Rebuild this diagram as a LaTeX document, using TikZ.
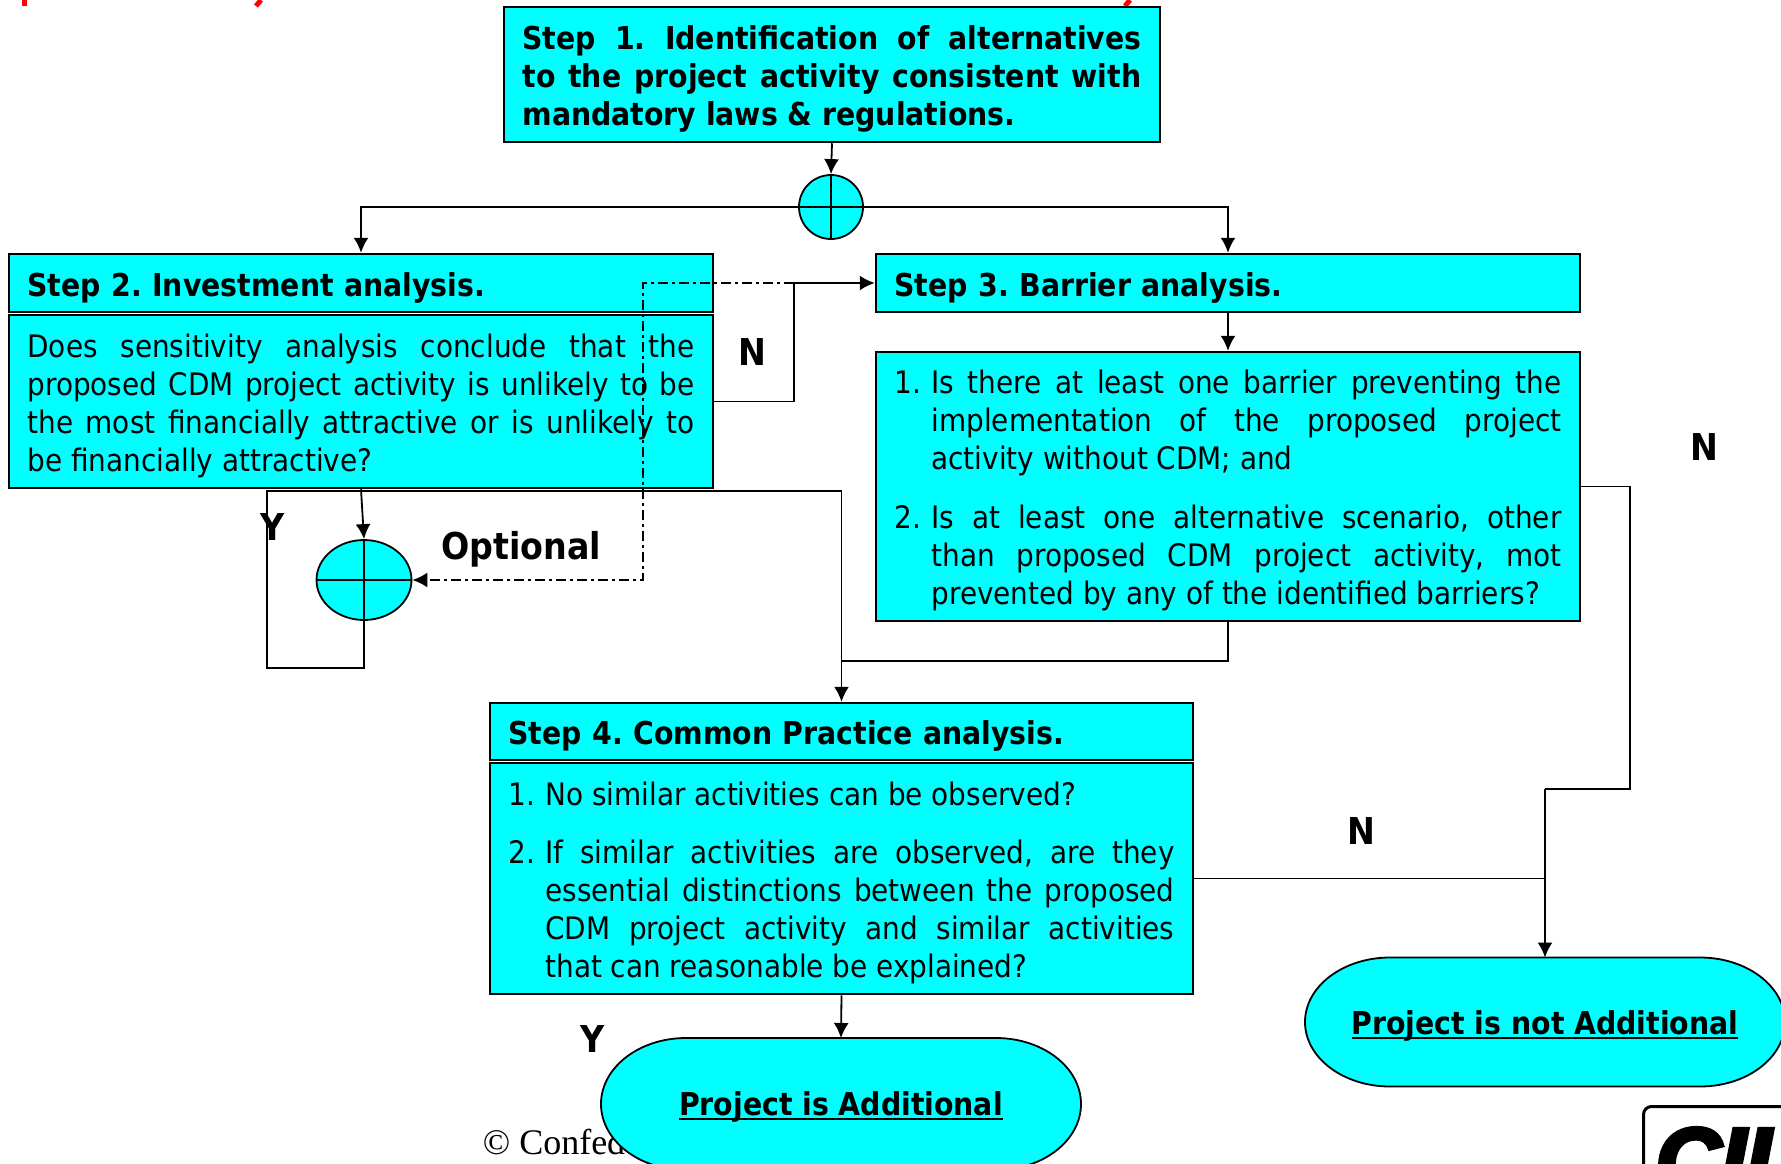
\documentclass[tikz,border=0pt]{standalone}
\usepackage{fontspec}
\usetikzlibrary{shapes.geometric,arrows.meta}
\setmainfont{DejaVu Sans Condensed}
\newfontfamily\copyfont{Liberation Serif}
\newfontfamily\logofont{Liberation Sans}[BoldItalicFeatures={FakeBold=5}]
\frenchspacing
\definecolor{boxcyan}{RGB}{0,255,255}
\newcommand{\numitem}[2]{\hangindent=37pt\hangafter=1\noindent\makebox[37pt][l]{#1}#2\par}
\newsavebox{\ulinebox}
\newcommand{\thickunder}[1]{\sbox{\ulinebox}{#1}\rlap{\rule[-4.5pt]{\wd\ulinebox}{2.5pt}}\usebox{\ulinebox}}
\newcommand{\terminalpath}[4]{\draw[fill=boxcyan] ({#1-#3+85},{#2-#4}) arc[start angle=90,delta angle=90,x radius=85pt,y radius=#4pt] arc[start angle=180,delta angle=90,x radius=85pt,y radius=#4pt] -- ({#1+#3-85},{#2+#4}) arc[start angle=270,delta angle=90,x radius=85pt,y radius=#4pt] arc[start angle=0,delta angle=90,x radius=85pt,y radius=#4pt] -- cycle;}

\tikzset{
    firstheight/.style={execute at begin node={\rule{0pt}{#1}}},
    headfont/.style={font=\fontsize{31.5}{38}\selectfont\bfseries},
    labeltext/.style={font=\fontsize{37}{40}\selectfont\bfseries}
}

\begin{document}
\begin{tikzpicture}[x=1pt,y=-1pt,>={Latex[length=15pt,width=15pt]},line width=1.8pt,
    every node/.style={font=\fontsize{31}{38}\selectfont}]

    \useasboundingbox (0,0) rectangle (1781,1163);
    \clip (0,0) rectangle (1781,1163);

    % Ends of the red title, cut off by the page
    \draw[red,line width=5pt] (24,0) -- (24,6);
    \draw[red,line width=5pt] (261,0) -- (256,6);
    \draw[red,line width=5pt] (1130,0) -- (1125,6);

    \begin{scope}[every node/.style={draw,fill=boxcyan,line width=2.5pt,inner xsep=18.5pt,inner ysep=0pt,align=justify,font=\fontsize{31}{38}\selectfont}]
        \node[minimum height=135pt,text width=619pt,headfont,firstheight=33pt] (stepone) at (832,74.5) {Step 1. Identification of alternatives\linebreak to the project activity consistent with\linebreak mandatory laws \& regulations.};
        \node[minimum height=58pt,text width=667pt,headfont,align=left,firstheight=33pt] (steptwo) at (361,283) {Step 2. Investment analysis.};
        \node[minimum height=173pt,text width=667pt,firstheight=32pt] (steptwobody) at (361,401.5) {Does sensitivity analysis conclude that the\linebreak proposed CDM project activity is unlikely to be\linebreak the most financially attractive or is unlikely to\linebreak be financially attractive?};
        \node[minimum height=58pt,text width=667pt,headfont,align=left,firstheight=33pt] (stepthree) at (1228,283) {Step 3. Barrier analysis.};
        \node[minimum height=269pt,text width=667pt,firstheight=32pt] (stepthreebody) at (1228,486.5) {\numitem{1.}{Is there at least one barrier preventing the\linebreak implementation of the proposed project\linebreak activity without CDM; and}\vspace{21pt}\numitem{2.}{Is at least one alternative scenario, other\linebreak than proposed CDM project activity, mot\linebreak prevented by any of the identified barriers?}};
        \node[minimum height=57pt,text width=666pt,headfont,align=left,firstheight=33pt] (stepfour) at (841.5,731.5) {Step 4. Common Practice analysis.};
        \node[minimum height=231pt,text width=666pt,firstheight=32pt] (stepfourbody) at (841.5,878.5) {\numitem{1.}{No similar activities can be observed?}\vspace{20pt}\numitem{2.}{If similar activities are observed, are they\linebreak essential distinctions between the proposed\linebreak CDM project activity and similar activities\linebreak that can reasonable be explained?}};
    \end{scope}

    % Text behind the end node
    \node[font=\fontsize{36}{40}\copyfont,anchor=west,inner sep=0pt] (copytext) at (482,1142) {© Confed};

    \terminalpath{841}{1104}{240}{66}
    \terminalpath{1545}{1022}{240}{64.5}
    \begin{scope}[every node/.style={headfont,inner sep=0pt}]
        \node[minimum width=480pt,minimum height=132pt,yshift=-3pt] (additional) at (841,1104) {\thickunder{Project is Additional}};
        \node[minimum width=480pt,minimum height=129pt,yshift=-4pt] (notadditional) at (1545,1022) {\thickunder{Project is not Additional}};
    \end{scope}

    \begin{scope}[every node/.style={ellipse,draw,fill=boxcyan,inner sep=0pt,line width=1.8pt}]
        \node[minimum width=64pt,minimum height=64pt] (crossone) at (831,207) {};
        \node[minimum width=95pt,minimum height=80pt] (crosstwo) at (364,580) {};
    \end{scope}
    \draw (crossone.north) -- (crossone.south);
    \draw (crossone.west) -- (crossone.east);
    \draw (crosstwo.north) -- (crosstwo.south);
    \draw (crosstwo.west) -- (crosstwo.east);

    \coordinate (loopstart) at (267,491);
    \coordinate (loopend) at (364,668);
    \coordinate (nturn) at (794,283);
    \coordinate (yjoin) at (841.5,491);
    \coordinate (barrierjoin) at (841,661);
    \coordinate (optturn) at (643,283);
    \coordinate (optdown) at (643,580);
    \coordinate (rightdown) at (1630,789);
    \coordinate (rightjoin) at (1545,789);
    \coordinate (commonjoin) at (1545,878.5);
    \coordinate (additionaltop) at (841,1038);
    \coordinate (notadditionaltop) at (1545,957.5);

    \draw [->] (stepone.south) -- (crossone.north);
    \draw [->] (crossone.west) -| (steptwo.north);
    \draw [->] (crossone.east) -| (stepthree.north);
    \draw [->] (stepthree.south) -- (stepthreebody.north);

    % Step 2 outputs
    \draw (steptwobody.east) -| (nturn);
    \draw [->] (nturn) -- (stepthree.west);
    \draw [->] (steptwobody.south) -- (crosstwo.north);
    \draw (crosstwo.south) |- (loopstart |- loopend) -- (loopstart) -- (yjoin);
    \draw [->] (yjoin) -- (stepfour.north);

    % Optional path
    \draw [->,dash pattern=on 10pt off 4pt on 3pt off 4pt] (nturn) -- (optturn) -- (optdown) -- (crosstwo.east);

    % Step 3 and Step 4 outputs
    \draw (stepthreebody.south) |- (barrierjoin);
    \draw (stepthreebody.east) -| (rightdown) -- (rightjoin);
    \draw [->] (rightjoin) -- (notadditionaltop);
    \draw (stepfourbody.east) -- (commonjoin);
    \draw [->] (stepfourbody.south) -- (additionaltop);

    \node[labeltext] (nlabelone) at (752,352) {N};
    \node[labeltext] (nlabeltwo) at (1704,447) {N};
    \node[labeltext] (nlabelthree) at (1361,831) {N};
    \node[labeltext] (ylabelone) at (273,527) {Y};
    \node[labeltext] (ylabeltwo) at (593,1039) {Y};
    \node[labeltext] (optlabel) at (521,549) {Optional};

    % Logo cut off by the page
    \node[draw,line width=3pt,rounded corners=8pt,minimum width=200pt,minimum height=120pt,anchor=north west,inner sep=0pt] (logobox) at (1642,1105) {};
    \node[font=\fontsize{90}{90}\logofont\bfseries\itshape,anchor=west,inner sep=0pt] (logotext) at (1655,1160) {CII};
\end{tikzpicture}
\end{document}
